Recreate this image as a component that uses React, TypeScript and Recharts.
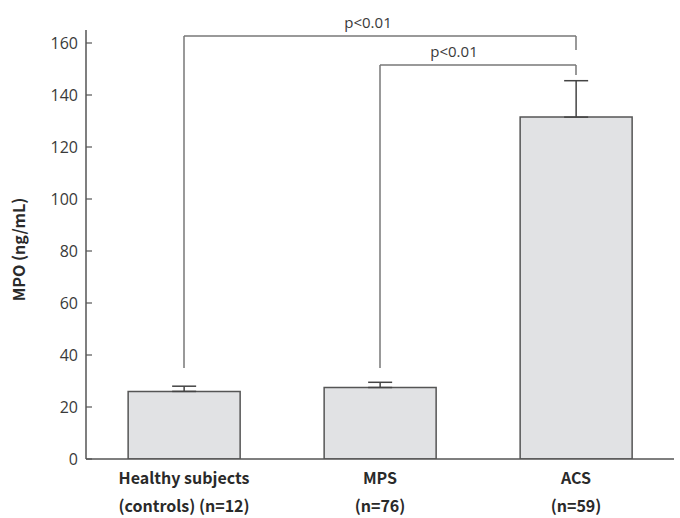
import { BarChart, Bar, XAxis, YAxis, ErrorBar, ReferenceLine, Label } from 'recharts'

const groups = ['Healthy', 'MPS', 'ACS']
const groupLines = [
  ['Healthy subjects', '(controls) (n=12)'],
  ['MPS', '(n=76)'],
  ['ACS', '(n=59)'],
]
const means = [26, 27.5, 131.5]
const errs = [2, 2, 14]
const yTicks = [0, 20, 40, 60, 80, 100, 120, 140, 160]

// significance brackets: [from, to, top, leftFoot, rightFoot, label]
const brackets: [string, string, number, number, number, string][] = [
  ['Healthy', 'ACS', 162.7, 35, 157.3, 'p<0.01'],
  ['MPS', 'ACS', 151.5, 35, 147.7, 'p<0.01'],
]
const labelShift = [-12, -24]

const data = groups.map((g, i) => ({ group: g, mean: means[i], err: [0, errs[i]] }))

const TICK_FONT = '"Open Sans", "Noto Sans", sans-serif'
const BOLD_FONT = '"Noto Sans CJK KR", "Noto Sans", sans-serif'

function YTick({ x, y, payload }: any) {
  return (
    <g>
      <line x1={x + 8} x2={x + 14} y1={y} y2={y} stroke="#555" strokeWidth={1.2} />
      <text x={x} y={y} dy={5.5} textAnchor="end" fontSize={16} fill="#3a3a3a" fontFamily={TICK_FONT}>
        {payload.value}
      </text>
    </g>
  )
}

function XTick({ x, y, payload }: any) {
  const lines = groupLines[groups.indexOf(payload.value)] || [payload.value]
  return (
    <text x={x} textAnchor="middle" fontSize={16} fontWeight={700} fill="#2a2a2a" fontFamily={BOLD_FONT}>
      {lines.map((l, i) => (
        <tspan key={i} x={x} y={y + 17 + i * 28}>{l}</tspan>
      ))}
    </text>
  )
}

export default function App() {
  return (
    <div style={{ position: 'absolute', left: 0, top: 0, background: '#fff' }}>
      <BarChart width={680} height={518} data={data} margin={{ top: 30, right: 6, bottom: 0, left: 0 }} barCategoryGap="21.5%">
        <XAxis dataKey="group" tickLine={false} axisLine={{ stroke: '#555', strokeWidth: 1.5 }} height={59} tick={<XTick />} interval={0} />
        <YAxis
          width={86}
          domain={[0, 165]}
          ticks={yTicks}
          allowDataOverflow
          tickLine={false}
          tickSize={8}
          tickMargin={0}
          axisLine={{ stroke: '#555', strokeWidth: 1.5 }}
          tick={<YTick />}
        >
          <Label
            content={({ viewBox }: any) => (
              <text
                transform={`translate(${viewBox.x + 25}, ${viewBox.y + viewBox.height / 2 + 5}) rotate(-90)`}
                textAnchor="middle"
                fontSize={16}
                fontWeight={700}
                fill="#2a2a2a"
                fontFamily={BOLD_FONT}
              >
                MPO (ng/mL)
              </text>
            )}
          />
        </YAxis>
        <Bar dataKey="mean" fill="#e1e2e4" stroke="#555" strokeWidth={1.5} isAnimationActive={false}>
          <ErrorBar dataKey="err" width={12} stroke="#444" strokeWidth={1.5} direction="y" />
        </Bar>
        {brackets.map(([a, b, top, footA, footB, text], i) => [
          <ReferenceLine key={`l${i}`} ifOverflow="visible" stroke="#777" strokeWidth={1.5}
            segment={[{ x: a, y: footA }, { x: a, y: top }]} />,
          <ReferenceLine key={`h${i}`} ifOverflow="visible" stroke="#777" strokeWidth={1.5}
            segment={[{ x: a, y: top }, { x: b, y: top }]}
            label={{ value: text, position: 'top', dx: labelShift[i], offset: 8, fontSize: 15, fill: '#3a3a3a', fontFamily: TICK_FONT }} />,
          <ReferenceLine key={`r${i}`} ifOverflow="visible" stroke="#777" strokeWidth={1.5}
            segment={[{ x: b, y: top }, { x: b, y: footB }]} />,
        ])}
      </BarChart>
    </div>
  )
}
